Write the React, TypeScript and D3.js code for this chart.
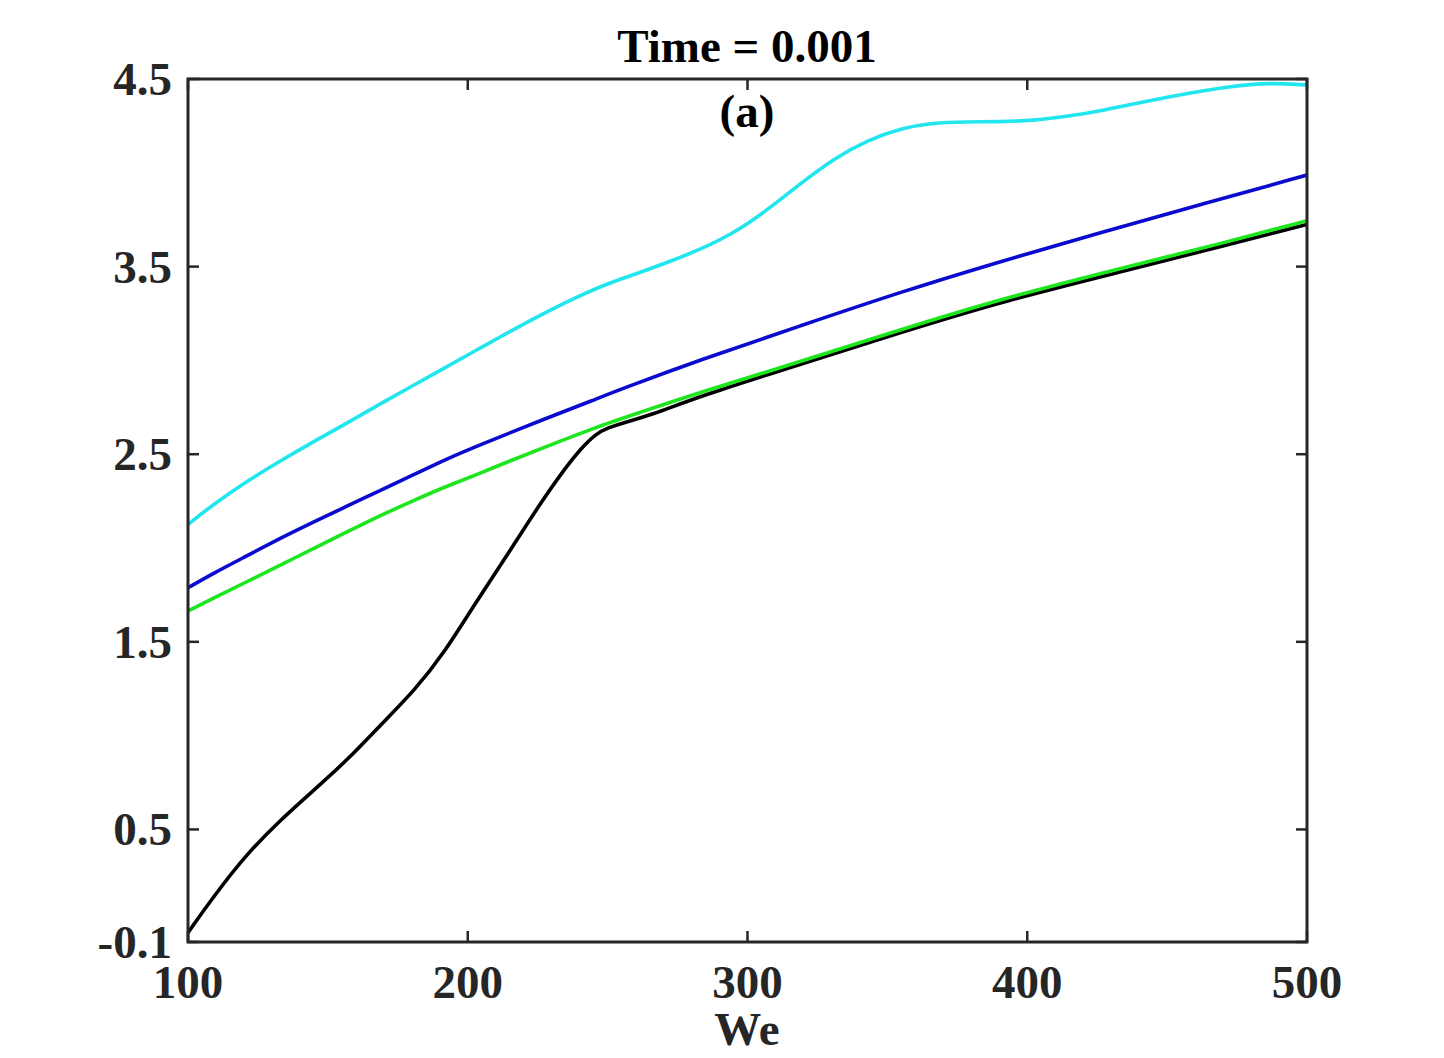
import React from "react";
import * as d3 from "d3";

const xTicks = [100, 200, 300, 400, 500];
const yTicks = [-0.1, 0.5, 1.5, 2.5, 3.5, 4.5];
const yTickLabels = ["-0.1", "0.5", "1.5", "2.5", "3.5", "4.5"];

const blackWe = [100, 109, 121, 133, 145, 157, 169, 181, 192, 202, 214, 226, 235, 241, 246, 250, 256, 265, 283, 319, 355, 390, 433, 470, 500];
const blackVal = [-0.05, 0.14, 0.37, 0.55, 0.71, 0.87, 1.06, 1.24, 1.45, 1.69, 1.96, 2.24, 2.43, 2.54, 2.61, 2.64, 2.67, 2.705, 2.81, 2.98, 3.15, 3.31, 3.47, 3.61, 3.725];

const greenWe = [100, 109, 121, 133, 145, 157, 169, 181, 192, 204, 216, 228, 246, 260, 283, 319, 355, 390, 433, 470, 500];
const greenVal = [1.665, 1.732, 1.82, 1.909, 1.998, 2.087, 2.175, 2.256, 2.327, 2.396, 2.47, 2.54, 2.645, 2.715, 2.83, 2.995, 3.165, 3.325, 3.49, 3.625, 3.745];

const blueWe = [100, 109, 121, 133, 145, 157, 169, 181, 192, 204, 228, 245, 255, 283, 319, 355, 390, 426, 463, 500];
const blueVal = [1.788, 1.865, 1.958, 2.052, 2.14, 2.224, 2.309, 2.393, 2.472, 2.548, 2.691, 2.789, 2.848, 3.003, 3.185, 3.366, 3.526, 3.68, 3.835, 3.988];

const cyanWe = [100, 109, 121, 133, 145, 155, 169, 192, 204, 216, 228, 240, 250, 260, 271, 283, 295, 307, 319, 331, 343, 355, 366, 378, 390, 402, 414, 426, 450, 474, 486, 500];
const cyanVal = [2.126, 2.232, 2.355, 2.465, 2.568, 2.65, 2.771, 2.962, 3.062, 3.162, 3.258, 3.345, 3.41, 3.46, 3.52, 3.59, 3.677, 3.8, 3.944, 4.077, 4.175, 4.237, 4.267, 4.272, 4.272, 4.278, 4.3, 4.328, 4.406, 4.465, 4.48, 4.468];

const series = [
  { name: "black", we: blackWe, val: blackVal, color: "#000000" },
  { name: "green", we: greenWe, val: greenVal, color: "#1ee61e" },
  { name: "blue", we: blueWe, val: blueVal, color: "#0b0bcf" },
  { name: "cyan", we: cyanWe, val: cyanVal, color: "#22e6ef" },
];

const W = 1444;
const H = 1058;
const L = 188, R = 1307, T = 79, B = 942;
const FONT = "'Liberation Serif', 'Times New Roman', serif";
const AX = "#262626";

export default function App() {
  const x = d3.scaleLinear().domain([100, 500]).range([L, R]);
  const y = d3.scaleLinear().domain([-0.1, 4.5]).range([B, T]);
  const line = d3
    .line<[number, number]>()
    .x((d) => x(d[0]))
    .y((d) => y(d[1]))
    .curve(d3.curveBasis);
  const tl = 11;
  return (
    <svg width={W} height={H} style={{ position: "absolute", left: 0, top: 0, background: "#fff" }}>
      <defs>
        <clipPath id="plotclip">
          <rect x={L} y={T} width={R - L} height={B - T} />
        </clipPath>
      </defs>
      <rect x={0} y={0} width={W} height={H} fill="#fff" />
      <g clipPath="url(#plotclip)">
        {series.map((s) => (
          <path
            key={s.name}
            d={line(s.we.map((w, i) => [w, s.val[i]] as [number, number])) || ""}
            fill="none"
            stroke={s.color}
            strokeWidth={3.6}
            strokeLinejoin="round"
            strokeLinecap="round"
          />
        ))}
      </g>
      <rect x={L} y={T} width={R - L} height={B - T} fill="none" stroke={AX} strokeWidth={3} />
      {xTicks.map((t) => (
        <g key={"x" + t}>
          <line x1={x(t)} x2={x(t)} y1={B} y2={B - tl} stroke={AX} strokeWidth={2.5} />
          <line x1={x(t)} x2={x(t)} y1={T} y2={T + tl} stroke={AX} strokeWidth={2.5} />
          <text x={x(t)} y={998} textAnchor="middle" fontFamily={FONT} fontWeight="bold" fontSize={47} fill={AX}>
            {t}
          </text>
        </g>
      ))}
      {yTicks.map((t, i) => (
        <g key={"y" + t}>
          <line x1={L} x2={L + tl} y1={y(t)} y2={y(t)} stroke={AX} strokeWidth={2.5} />
          <line x1={R} x2={R - tl} y1={y(t)} y2={y(t)} stroke={AX} strokeWidth={2.5} />
          <text x={172} y={y(t) + 16} textAnchor="end" fontFamily={FONT} fontWeight="bold" fontSize={47} fill={AX}>
            {yTickLabels[i]}
          </text>
        </g>
      ))}
      <text x={747} y={1045} textAnchor="middle" fontFamily={FONT} fontWeight="bold" fontSize={47} fill={AX}>
        We
      </text>
      <text x={747} y={62} textAnchor="middle" fontFamily={FONT} fontWeight="bold" fontSize={47} fill="#000">
        Time = 0.001
      </text>
      <text x={747} y={127} textAnchor="middle" fontFamily={FONT} fontWeight="bold" fontSize={47} fill="#000">
        (a)
      </text>
    </svg>
  );
}
